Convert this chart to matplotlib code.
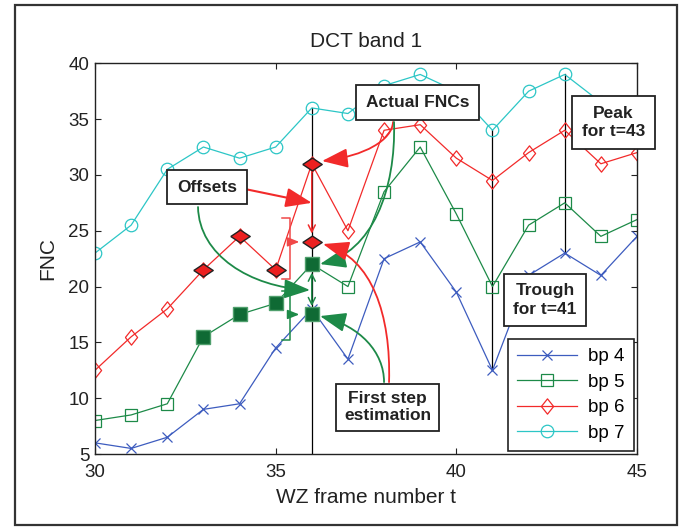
import matplotlib
matplotlib.use('Agg')
import matplotlib.pyplot as plt
from matplotlib.patches import FancyArrowPatch, Rectangle
from matplotlib.path import Path

plt.rcParams['font.family'] = ['Liberation Sans', 'DejaVu Sans']

# ---------------- data ----------------
t = list(range(30, 46))
bp4 = [6, 5.5, 6.5, 9, 9.5, 14.5, 18, 13.5, 22.5, 24, 19.5, 12.5, 21, 23, 21, 24.5]
bp5 = [8, 8.5, 9.5, 15.5, 17.5, 18.5, 22, 20, 28.5, 32.5, 26.5, 20, 25.5, 27.5, 24.5, 26]
bp6 = [12.5, 15.5, 18, 21.5, 24.5, 21.5, 31, 25, 34, 34.5, 31.5, 29.5, 32, 34, 31, 32]
bp7 = [23, 25.5, 30.5, 32.5, 31.5, 32.5, 36, 35.5, 38, 39, 37.5, 34, 37.5, 39, 36.5, 35]
labels = ['bp 4', 'bp 5', 'bp 6', 'bp 7']
x_ticks = [30, 35, 40, 45]
y_ticks = [5, 10, 15, 20, 25, 30, 35, 40]

t_est = 36                 # frame being estimated
bp5_first = 17.5           # first step estimation, bp 5
bp6_first = 24             # first step estimation, bp 6
filled_t = [33, 34, 35]    # highlighted past frames
trough_t = 41
peak_t = 43

# ---------------- style ----------------
C4, C5, C6, C7 = '#3d5cbf', '#1d8a48', '#f22a2a', '#2cc6c6'
G_FILL, G_EDGE = '#0f6a34', '#4f9f6c'
R_FILL = '#ec2020'
BOX_EC = '#222222'

fig = plt.figure(figsize=(6.84, 5.27), dpi=100)
ax = fig.add_axes([0.1389, 0.1385, 0.7924, 0.7414])

def P(xp, yp):
    """reference-pixel layout position -> data coordinates"""
    return 30 + (xp - 95) / 36.13, 40 - (yp - 63.3) / 11.16

i = {v: k for k, v in enumerate(t)}

# vertical reference lines
ax.plot([t_est, t_est], [5, bp7[i[t_est]]], color='k', lw=0.9, zorder=1)
ax.plot([trough_t, trough_t], [bp4[i[trough_t]], bp7[i[trough_t]]], color='k', lw=0.9, zorder=1)
ax.plot([peak_t, peak_t], [bp4[i[peak_t]], bp7[i[peak_t]]], color='k', lw=0.9, zorder=1)

open_diamond = [(-0.8, 0), (0, 1), (0.8, 0), (0, -1), (-0.8, 0)]
wide_diamond = [(-1, 0), (0, 0.66), (1, 0), (0, -0.66), (-1, 0)]

h4, = ax.plot(t, bp4, color=C4, marker='x', ms=7, mew=0.9, lw=0.9, label=labels[0], zorder=2)
h5, = ax.plot(t, bp5, color=C5, marker='s', ms=9, mfc='none', mew=0.9, lw=0.9, label=labels[1], zorder=2)
h6, = ax.plot(t, bp6, color=C6, marker=open_diamond, ms=11, mfc='none', mew=0.9, lw=0.9, label=labels[2], zorder=2)
h7, = ax.plot(t, bp7, color=C7, marker='o', ms=9, mfc='none', mew=0.9, lw=0.9, label=labels[3], zorder=2)

# filled (highlighted) markers
g_x = filled_t + [t_est, t_est]
g_y = [bp5[i[k]] for k in filled_t] + [bp5[i[t_est]], bp5_first]
r_y = [bp6[i[k]] for k in filled_t] + [bp6[i[t_est]], bp6_first]
ax.plot(g_x, g_y, ls='none', marker='s', ms=10, mfc=G_FILL, mec=G_EDGE, mew=1.0, zorder=4)
ax.plot(g_x, r_y, ls='none', marker=wide_diamond, ms=14, mfc=R_FILL, mec='#222222', mew=1.0, zorder=4)

# vertical offset arrows at t_est
ax.annotate('', xy=(t_est, bp6_first), xytext=(t_est, bp6[i[t_est]]),
            arrowprops=dict(arrowstyle='->,head_length=0.5,head_width=0.25', color=C6, lw=1.1,
                            shrinkA=6, shrinkB=6), zorder=3)
ax.annotate('', xy=(t_est, bp5_first), xytext=(t_est, bp5[i[t_est]]),
            arrowprops=dict(arrowstyle='<->,head_length=0.5,head_width=0.25', color=C5, lw=1.1,
                            shrinkA=6, shrinkB=6), zorder=3)

# brackets (range used for the first step estimation)
bx0, bx1 = 35.18, 35.40
for first, mid, half, col in [(bp6_first, bp6_first - 0.6, 2.7, '#f04848'),
                              (bp5_first, bp5_first - 0.1, 2.2, C5)]:
    ax.plot([bx0, bx1, bx1, bx0], [mid + half, mid + half, mid - half, mid - half],
            color=col, lw=1.1, zorder=3)
    ax.annotate('', xy=(t_est, first), xytext=(bx1, first),
                arrowprops=dict(arrowstyle='-|>,head_length=0.7,head_width=0.28', color=col,
                                lw=1.1, shrinkA=0, shrinkB=9), zorder=3)

# text boxes
def box(xp, yp, s, pad, ls):
    ax.text(*P(xp, yp), s, ha='center', va='center', fontsize=12.5, fontweight='bold',
            color='#222222', zorder=7, linespacing=ls,
            bbox=dict(boxstyle='square,pad=%.2f' % pad, fc='white', ec=BOX_EC, lw=1.3))

box(207, 187, 'Offsets', 0.55, 1.0)
box(417.5, 102.5, 'Actual FNCs', 0.55, 1.0)
box(387.5, 407, 'First step\nestimation', 0.45, 1.1)
box(613.5, 122.5, 'Peak\nfor t=43', 0.55, 1.3)
box(545, 300, 'Trough\nfor t=41', 0.55, 1.3)

# curved annotation arrows
AS = '-|>,head_length=0.8,head_width=0.3'
def curve(pts, color):
    verts = [P(*p) for p in pts]
    path = Path(verts, [Path.MOVETO, Path.CURVE4, Path.CURVE4, Path.CURVE4])
    ax.add_patch(FancyArrowPatch(path=path, arrowstyle=AS, mutation_scale=20, color=color,
                                 lw=1.3, zorder=5))

def straight(p0, p1, color):
    ax.add_patch(FancyArrowPatch(P(*p0), p1, arrowstyle=AS, mutation_scale=20, color=color,
                                 lw=1.5, zorder=5, shrinkA=0, shrinkB=0))

ym = (bp6[i[t_est]] + bp6_first) / 2
straight((245, 189), (t_est, ym), C6)
curve([(198, 207), (199, 255), (250, 287), (310, 290)], C5)
curve([(393, 122), (392, 140), (365, 156), (322, 161)], C6)
curve([(394, 122), (396, 190), (372, 252), (320, 264)], C5)
curve([(384, 382), (384, 352), (360, 326), (320, 316)], C5)
curve([(389, 382), (391, 315), (372, 258), (323, 244)], C6)

# axes styling
ax.set_xlim(30, 45)
ax.set_ylim(5, 40)
ax.set_xticks(x_ticks)
ax.set_yticks(y_ticks)
ax.tick_params(direction='in', top=True, right=True, length=4, width=0.8,
               labelsize=13.5, colors='#222222')
ax.tick_params(axis='x', pad=7)
ax.tick_params(axis='y', pad=4)
for s in ax.spines.values():
    s.set_linewidth(1.0)
    s.set_color('#222222')
ax.set_title('DCT band 1', fontsize=15, pad=12, color='#222222')
ax.set_xlabel('WZ frame number t', fontsize=15, color='#222222', labelpad=5)
ax.set_ylabel('FNC', fontsize=15, color='#222222', labelpad=8)

leg = ax.legend(handles=[h4, h5, h6, h7], loc='lower right', fontsize=13.5, fancybox=False,
                framealpha=1, edgecolor='#222222', borderaxespad=0.15, handlelength=3.2,
                labelspacing=0.45, borderpad=0.5, handletextpad=0.6, numpoints=1)
leg.get_frame().set_linewidth(1.2)
leg.set_zorder(8)

# outer frame of the figure
fig.patches.append(Rectangle((0.022, 0.004), 0.968, 0.986, transform=fig.transFigure,
                             fill=False, ec='#333333', lw=1.6))

fig.savefig('out.png', dpi=100)
